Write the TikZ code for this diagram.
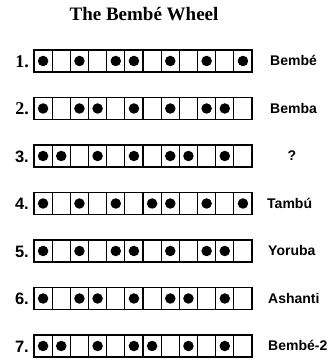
\documentclass[tikz,border=0pt]{standalone}
\usepackage{fontspec}
\setmainfont{Liberation Serif}
\setsansfont{Liberation Sans}
\begin{document}
\begin{tikzpicture}[x=1pt,y=1pt,
  cell/.style={draw, line width=1.1pt, minimum width=18.17pt, minimum height=22pt, inner sep=0pt, outer sep=0pt},
  beat/.style={circle, fill=black, minimum size=10.5pt, inner sep=0pt},
  frame/.style={draw, line width=1.6pt},
  numserif/.style={anchor=base east, font=\fontsize{18}{18}\selectfont\bfseries, inner sep=0pt},
  numsans/.style={anchor=base east, font=\fontsize{16.5}{16.5}\selectfont\sffamily\bfseries, inner sep=0pt},
  rname/.style={anchor=base west, font=\fontsize{14}{14}\selectfont\sffamily\bfseries, inner sep=0pt},
  title/.style={anchor=base, font=\fontsize{19}{19}\selectfont\bfseries, inner sep=0pt}]
\useasboundingbox (0,0) rectangle (334,362);
\node[title] (title) at (144,341) {The Bembé Wheel};
\foreach \pat [count=\r] in {{1,0,1,0,1,1,0,1,0,1,0,1},{1,0,1,1,0,1,0,1,0,1,1,0},{1,1,0,1,0,1,0,1,1,0,1,0},{1,0,1,0,1,0,1,1,0,1,0,1},{1,0,1,0,1,1,0,1,0,1,1,0},{1,0,1,1,0,1,0,1,1,0,1,0},{1,1,0,1,0,1,1,0,1,0,1,0}}{
  \pgfmathsetmacro\yy{362-61-47.5*(\r-1)}
  \foreach \v [count=\c] in \pat {
    \pgfmathsetmacro\xx{34+18.17*(\c-0.5)}
    \node[cell] (c\r-\c) at (\xx,\yy) {};
    \ifnum\v=1 \node[beat] (d\r-\c) at (c\r-\c.center) {};\fi
  }
  \draw[frame] (c\r-1.north west) rectangle (c\r-12.south east);
  \coordinate (row\r) at (0,\yy);
}
\node[numserif] (n1) at ([yshift=-6.5pt]row1 -| 29,0) {1.};
\node[numserif] (n2) at ([yshift=-6.5pt]row2 -| 29,0) {2.};
\node[numsans] (n3) at ([yshift=-6.5pt]row3 -| 29,0) {3.};
\node[numsans] (n4) at ([yshift=-6.5pt]row4 -| 29,0) {4.};
\node[numsans] (n5) at ([yshift=-6.5pt]row5 -| 29,0) {5.};
\node[numsans] (n6) at ([yshift=-6.5pt]row6 -| 29,0) {6.};
\node[numsans] (n7) at ([yshift=-6.5pt]row7 -| 29,0) {7.};
\node[rname] (l1) at ([yshift=-5pt]row1 -| 270,0) {Bembé};
\node[rname] (l2) at ([yshift=-5pt]row2 -| 270,0) {Bemba};
\node[rname, anchor=base] (l3) at ([yshift=-5pt]row3 -| 292,0) {?};
\node[rname] (l4) at ([yshift=-5pt]row4 -| 267,0) {Tambú};
\node[rname] (l5) at ([yshift=-5pt]row5 -| 268,0) {Yoruba};
\node[rname] (l6) at ([yshift=-5pt]row6 -| 268,0) {Ashanti};
\node[rname] (l7) at ([yshift=-5pt]row7 -| 268,0) {Bembé-2};
\end{tikzpicture}
\end{document}
